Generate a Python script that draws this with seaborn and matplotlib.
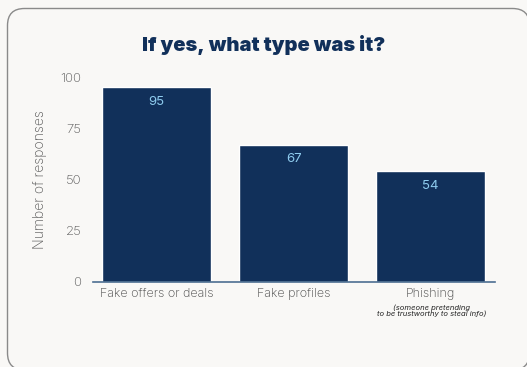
import matplotlib
matplotlib.use("Agg")
import matplotlib.pyplot as plt
from matplotlib.patches import FancyBboxPatch
from matplotlib.transforms import IdentityTransform
import seaborn as sns
import pandas as pd

categories = ["Fake offers or deals", "Fake profiles", "Phishing"]
responses = [95, 67, 54]
notes = ["", "", "(someone pretending\nto be trustworthy to steal info)"]
y_ticks = [0, 25, 50, 75, 100]

title = "If yes, what type was it?"
y_label = "Number of responses"

bg = "#f9f8f6"
navy = "#11305a"
value_color = "#8ecbee"
tick_color = "#555555"

sns.set_theme(style="white")
plt.rcParams["font.family"] = ["Inter", "DejaVu Sans"]

df = pd.DataFrame({"category": categories, "responses": responses})

fig = plt.figure(figsize=(5.27, 3.67), dpi=100)
fig.patch.set_facecolor(bg)

# rounded card outline (pixel coordinates, runs past the right and bottom edges)
card = FancyBboxPatch((7.5, -3), 522, 361.5,
                      boxstyle="round,pad=0,rounding_size=17",
                      transform=IdentityTransform(), facecolor=bg,
                      edgecolor="#8a8a8a", linewidth=1.0, zorder=-10)
fig.patches.append(card)

ax = fig.add_axes([92.7 / 527, 85 / 367, 402.3 / 527, 205 / 367])
ax.set_facecolor("none")
ax.set_zorder(1)

sns.barplot(data=df, x="category", y="responses", color=navy,
            saturation=1, width=0.8, ax=ax)

ax.set_xlim(-0.466, 2.47)
ax.set_ylim(0, 100)
ax.set_yticks(y_ticks)
ax.set_yticklabels([str(t) for t in y_ticks], fontsize=9.5, color=tick_color,
                   fontweight="light")
ax.tick_params(axis="y", length=0, pad=8)
ax.tick_params(axis="x", length=0, pad=4, labelsize=9, labelcolor="#444444")
for lbl in ax.get_xticklabels():
    lbl.set_fontweight("light")

for s in ["top", "right", "left"]:
    ax.spines[s].set_visible(False)
ax.spines["bottom"].set_color("#4d6f92")
ax.spines["bottom"].set_linewidth(1.2)

ax.set_xlabel("")
ax.set_ylabel(y_label, fontsize=10, color=tick_color, fontweight="light",
              labelpad=10)

for i, v in enumerate(responses):
    ax.text(i, v - 7, str(v), ha="center", va="center", color=value_color,
            fontsize=9.5)

for i, note in enumerate(notes):
    if note:
        ax.text(i + 0.01, -0.108, note, transform=ax.get_xaxis_transform(),
                ha="center", va="top", fontsize=5.5, style="italic",
                color="#222222", linespacing=1.0)

fig.text(263.5 / 527, 1 - 45 / 367, title, ha="center", va="center",
         fontsize=14.5, fontweight="black", color=navy)

fig.savefig("out.png", dpi=100, facecolor=bg)
